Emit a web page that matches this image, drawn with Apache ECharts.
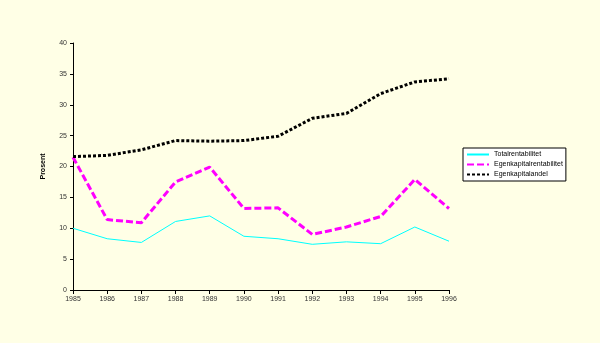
<!DOCTYPE html>
<html><head><meta charset="utf-8">
<script src="https://cdn.jsdelivr.net/npm/echarts@6/dist/echarts.min.js"></script>
<style>html,body{margin:0;padding:0;background:#FFFFE6;}#c{width:600px;height:343px;}</style>
</head><body><div id="c"></div>
<script>
const years = ['1985','1986','1987','1988','1989','1990','1991','1992','1993','1994','1995','1996'];
const totalrentabilitet = [10.0, 8.3, 7.7, 11.1, 12.0, 8.7, 8.3, 7.4, 7.8, 7.5, 10.2, 7.9];
const egenkapitalrentabilitet = [21.5, 11.4, 10.9, 17.5, 19.9, 13.2, 13.3, 9.0, 10.2, 11.9, 17.9, 13.2];
const egenkapitalandel = [21.6, 21.8, 22.7, 24.2, 24.1, 24.2, 24.9, 27.8, 28.6, 31.8, 33.7, 34.2];

const chart = echarts.init(document.getElementById('c'));
const lbl = {fontFamily:'Liberation Sans', fontSize:7, color:'#333'};
chart.setOption({
  backgroundColor:'#FFFFE6',
  animation:false,
  grid:{left:73, right:151, top:43, bottom:53},
  legend:{
    orient:'vertical', left:463, top:148, itemGap:3, itemWidth:22, itemHeight:6,
    padding:[3,3,3,3], borderColor:'#000', borderWidth:1, backgroundColor:'#FFFFFF',
    itemStyle:{opacity:0},
    textStyle:{fontFamily:'Liberation Sans', fontSize:7, color:'#000'},
    data:['Totalrentabilitet','Egenkapitalrentabilitet','Egenkapitalandel']
  },
  xAxis:{type:'category', data:years, boundaryGap:false,
    axisLine:{lineStyle:{color:'#000', width:1}},
    axisTick:{show:true, length:4, lineStyle:{color:'#000'}},
    axisLabel:Object.assign({margin:6, interval:0}, lbl)},
  yAxis:{type:'value', min:0, max:40, interval:5,
    name:'Prosent', nameLocation:'middle', nameGap:26, nameRotate:90,
    nameTextStyle:{fontFamily:'Liberation Sans', fontSize:7, fontWeight:'bold', color:'#000'},
    axisLine:{show:true, lineStyle:{color:'#000', width:1}},
    axisTick:{show:true, length:3, lineStyle:{color:'#000'}},
    splitLine:{show:false},
    axisLabel:Object.assign({margin:6}, lbl)},
  series:[
    {name:'Totalrentabilitet', type:'line', data:totalrentabilitet, symbol:'none',
     itemStyle:{color:'#00FFFF'}, lineStyle:{color:'#00FFFF', width:1}},
    {name:'Egenkapitalrentabilitet', type:'line', data:egenkapitalrentabilitet, symbol:'none',
     itemStyle:{color:'#FF00FF'}, lineStyle:{color:'#FF00FF', width:3, type:[7,3]}},
    {name:'Egenkapitalandel', type:'line', data:egenkapitalandel, symbol:'none',
     itemStyle:{color:'#000'}, lineStyle:{color:'#000', width:3, type:[3,2]}}
  ]
});
</script></body></html>
